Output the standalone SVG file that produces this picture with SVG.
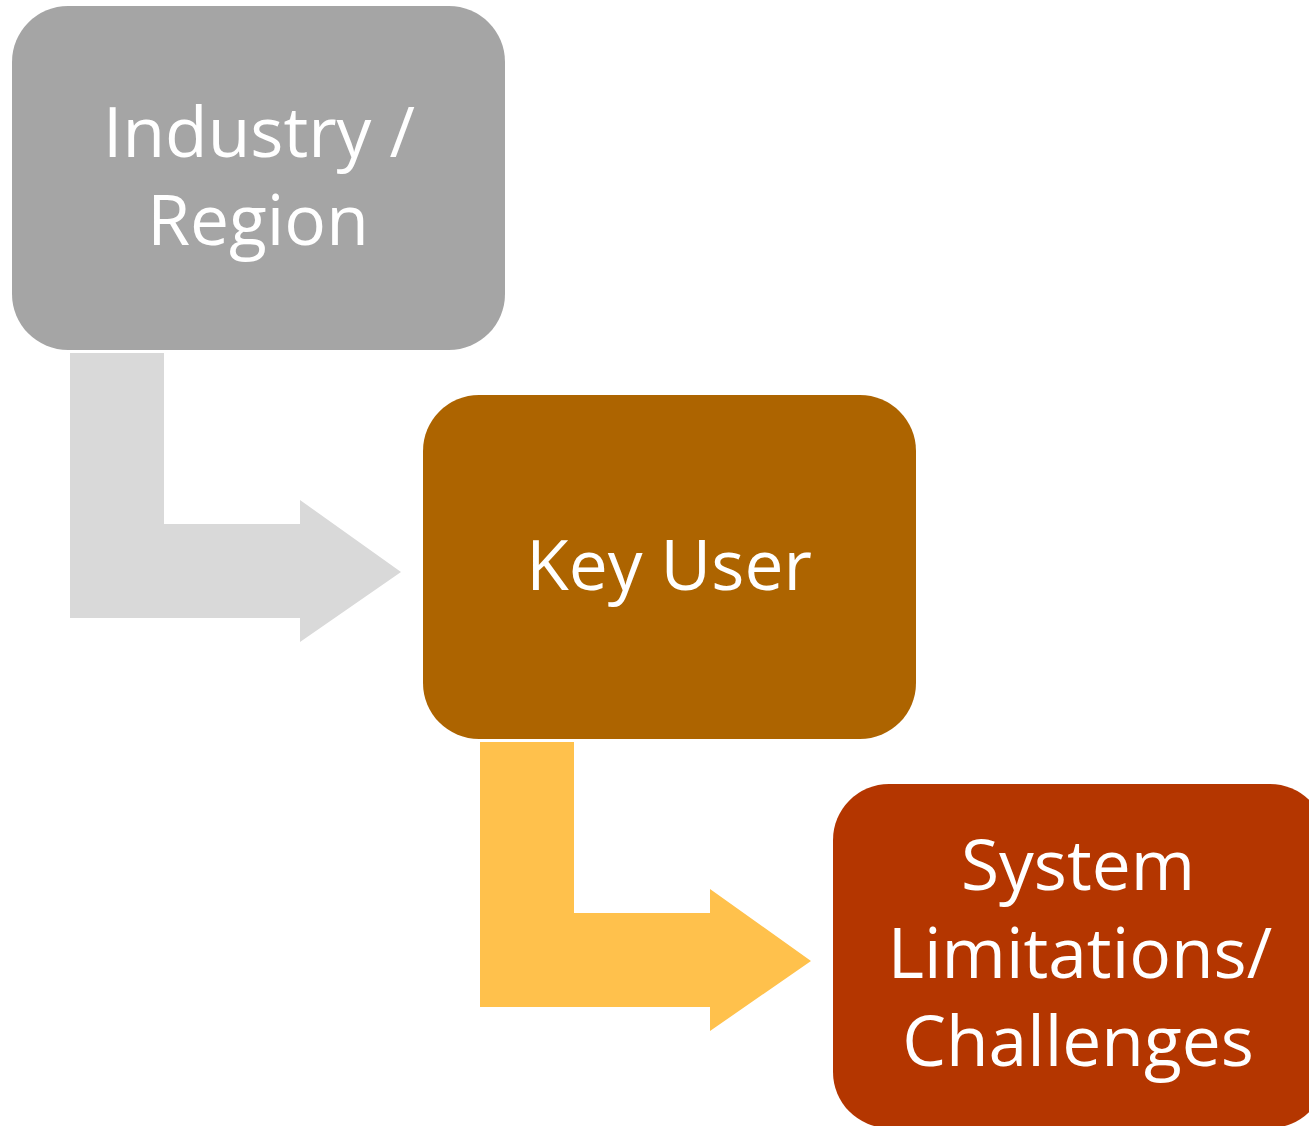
<svg xmlns="http://www.w3.org/2000/svg" width="1309" height="1126" viewBox="0 0 1309 1126">
<style>
.lbl{font-family:"Open Sans","Noto Sans","Liberation Sans",sans-serif;font-size:69.5px;fill:#fff;text-anchor:middle}
</style>
<rect width="1309" height="1126" fill="#fff"/>
<g id="connectors">
<path id="arrow1" d="M70 353H164V524H300V500L401 572L300 642V618H70Z" fill="#D9D9D9"/>
<path id="arrow2" d="M480 742H574V913H710V889L811 961L710 1031V1007H480Z" fill="#FFC14C"/>
</g>
<g id="node-industry">
<rect x="12" y="6" width="493" height="344" rx="56" fill="#A5A5A5"/>
<text class="lbl" x="259" y="157">Industry /</text>
<text class="lbl" x="258" y="245">Region</text>
</g>
<g id="node-keyuser">
<rect x="423" y="395" width="493" height="344" rx="56" fill="#AD6400"/>
<text class="lbl" x="669" y="590">Key User</text>
</g>
<g id="node-system">
<rect x="833" y="784" width="493" height="344" rx="56" fill="#B43600"/>
<text class="lbl" x="1078" y="890">System</text>
<text class="lbl" x="1080" y="978">Limitations/</text>
<text class="lbl" x="1078" y="1066">Challenges</text>
</g>
</svg>
